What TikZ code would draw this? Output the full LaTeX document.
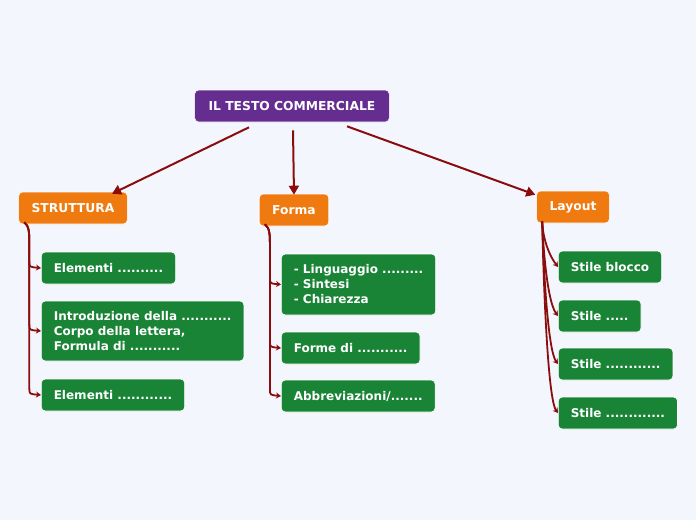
\documentclass[tikz,border=0pt]{standalone}
\usepackage{fontspec}
\setmainfont{DejaVu Sans}
\usetikzlibrary{arrows.meta,calc}
\definecolor{bg}{HTML}{F4F6FE}
\definecolor{rootc}{HTML}{662D91}
\definecolor{orangec}{HTML}{EF7A10}
\definecolor{greenc}{HTML}{1A8436}
\definecolor{linkc}{HTML}{8B0C0C}
\tikzset{
  box/.style={rounded corners=4pt, draw=white, line width=0.6pt, text=white,
    font=\fontsize{12.3}{15}\selectfont\bfseries, inner xsep=13pt, inner ysep=0pt,
    minimum height=32pt, align=left},
  rootbox/.style={box, fill=rootc, inner xsep=14pt},
  catbox/.style={box, fill=orangec},
  leafbox/.style={box, fill=greenc, font=\fontsize{12}{15}\selectfont\bfseries, inner xsep=12.5pt},
  mainlink/.style={draw=linkc, line width=2pt, -{Triangle[length=9pt,width=10pt]}},
  sublink/.style={draw=linkc, line width=1.8pt, -{Stealth[length=5pt,width=6pt]}},
}
\begin{document}
\begin{tikzpicture}[x=1pt,y=-1pt]
\fill[bg] (0,0) rectangle (696,520);
\useasboundingbox (0,0) rectangle (696,520);

\node[rootbox] (root) at (292,106) {IL TESTO COMMERCIALE};
\node[catbox] (strut) at (73,208) {STRUTTURA};
\node[catbox] (forma) at (294,210) {Forma};
\node[catbox] (layout) at (573,207) {Layout};

\node[leafbox, anchor=west] (s1) at (41,268) {Elementi ..........};
\node[leafbox, anchor=west, minimum height=60pt] (s2) at (41,331) {Introduzione della ...........\\Corpo della lettera,\\Formula di ...........};
\node[leafbox, anchor=west] (s3) at (41,395) {Elementi ............};

\node[leafbox, anchor=west, minimum height=61pt] (f1) at (281,284.5) {- Linguaggio .........\\- Sintesi\\- Chiarezza};
\node[leafbox, anchor=west] (f2) at (281,348) {Forme di ...........};
\node[leafbox, anchor=west] (f3) at (281,396) {Abbreviazioni/.......};

\node[leafbox, anchor=west] (l1) at (558,267) {Stile blocco};
\node[leafbox, anchor=west] (l2) at (558,316) {Stile .....};
\node[leafbox, anchor=west] (l3) at (558,364) {Stile ............};
\node[leafbox, anchor=west] (l4) at (558,413) {Stile .............};

% main links
\draw[mainlink] ([xshift=-43pt,yshift=-5pt]root.south) -- ([xshift=39pt,yshift=-2pt]strut.north);
\draw[mainlink] ([xshift=1pt,yshift=-8pt]root.south) -- ([yshift=-1pt]forma.north);
\draw[mainlink] ([xshift=55pt,yshift=-4pt]root.south) -- ([xshift=-1pt,yshift=-4pt]layout.north west);

% struttura children
\coordinate (ss) at ([xshift=6pt,yshift=2pt]strut.south west);
\foreach \c in {s1,s2,s3}{
  \draw[sublink] (ss) .. controls ($(ss)+(5,4)$) and ($(ss)+(5,10)$) .. ($(ss)+(5,24)$)
    -- ($(ss|-\c.west)+(5,-7)$) .. controls ($(ss|-\c.west)+(5,-1)$) .. (\c.west);
}
% forma children
\coordinate (fs) at ([xshift=6pt,yshift=2pt]forma.south west);
\foreach \c in {f1,f2,f3}{
  \draw[sublink] (fs) .. controls ($(fs)+(5,4)$) and ($(fs)+(5,10)$) .. ($(fs)+(5,24)$)
    -- ($(fs|-\c.west)+(5,-7)$) .. controls ($(fs|-\c.west)+(5,-1)$) .. (\c.west);
}
% layout children
\coordinate (ls) at ([xshift=6pt,yshift=2pt]layout.south west);
\foreach \c in {l1,l2,l3,l4}{
  \draw[sublink] (ls) .. controls ($(ls)+(0,10)$) and ($(\c.west)+(-12,-16)$) .. (\c.west);
}
\end{tikzpicture}
\end{document}
